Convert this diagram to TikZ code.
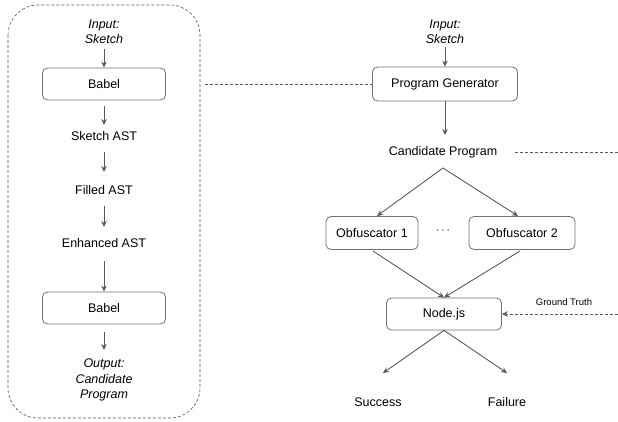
\documentclass[tikz,border=0pt]{standalone}
\usepackage{fontspec}
\setmainfont{Liberation Sans}
\usepackage{tikz}
\usetikzlibrary{calc, arrows.meta}
\usepackage{xcolor}
\definecolor{linegray}{HTML}{595959}
\definecolor{boxgray}{HTML}{707070}

\begin{document}
\begin{tikzpicture}[x=1pt, y=-1pt,
    every node/.style={font=\fontsize{12.5}{14}\selectfont, text=black},
    box/.style={draw=boxgray, rounded corners=5pt, line width=0.8pt, inner sep=0pt},
    conn/.style={draw=linegray, line width=0.9pt, -{Stealth[length=6pt, width=5.5pt]}},
    dline/.style={draw=linegray, line width=0.6pt, dash pattern=on 3pt off 2pt},
    ital/.style={align=center, font=\fontsize{12.5}{15.5}\selectfont\itshape}]
  				\useasboundingbox (0, 0) rectangle (618, 421);
  				% left: the Babel pipeline
  				\draw[dline, rounded corners=30pt] (8, 5) rectangle (200, 418);
  				\node[ital] (inL) at (104, 32) {Input:\\Sketch};
  				\node[box, minimum width=123pt, minimum height=32pt] (babelA) at (104, 84) {Babel};
  				\node (sketchAST) at (104, 136) {Sketch AST};
  				\node (filledAST) at (104, 190) {Filled AST};
  				\node (enhAST) at (104, 243) {Enhanced AST};
  				\node[box, minimum width=123pt, minimum height=32pt] (babelB) at (104, 308) {Babel};
  				\node[ital] (outL) at (104, 380) {Output:\\Candidate\\Program};
  				\draw[conn] (104, 49) -- (babelA);
  				\draw[conn] (babelA.south) ++(0, 6) -- (104, 125);
  				\draw[conn] (104, 152) -- (104, 172);
  				\draw[conn] (104, 206) -- (104, 227);
  				\draw[conn] (104, 261) -- (babelB);
  				\draw[conn] (babelB.south) ++(0, 8) -- (104, 350);
  				% right: the program generator
  				\node[ital] (inR) at (445, 32) {Input:\\Sketch};
  				\node[box, minimum width=145pt, minimum height=34pt] (gen) at (445, 84) {Program Generator};
  				\node (cand) at (443, 152) {Candidate Program};
  				\node[box, minimum width=92pt, minimum height=33pt] (obfA) at (372, 233) {Obfuscator 1};
  				\node[box, minimum width=106pt, minimum height=33pt] (obfB) at (522, 233) {Obfuscator 2};
  				\node (dots) at (443, 231) {$\cdots$};
  				\node[box, minimum width=115pt, minimum height=32pt] (node) at (444, 314) {Node.js};
  				\node[font=\fontsize{9.5}{11}\selectfont] (truth) at (564, 302) {Ground Truth};
  				\node (succ) at (378, 402) {Success};
  				\node (fail) at (507, 402) {Failure};
  				\coordinate (split) at (443, 168);
  				\coordinate (rightA) at (618, 152);
  				\coordinate (rightB) at (618, 314);
  				\draw[conn] (445, 47) -- (gen);
  				\draw[conn] (gen) -- (445, 135);
  				\draw[conn] (split) -- (377, 216);
  				\draw[conn] (split) -- (518, 216);
  				\draw[conn] (373, 251) -- (node.north);
  				\draw[conn] (520, 251) -- (node.north);
  				\draw[conn] (node.south) -- (383, 373);
  				\draw[conn] (node.south) -- (507, 373);
  				\draw[dline] (205, 84) -- (gen.west);
  				\draw[dline] (515, 152) -- (rightA);
  				\draw[dline, -{Stealth[length=6pt, width=5.5pt]}] (rightB) -- (node.east);
			\end{tikzpicture}
\end{document}
